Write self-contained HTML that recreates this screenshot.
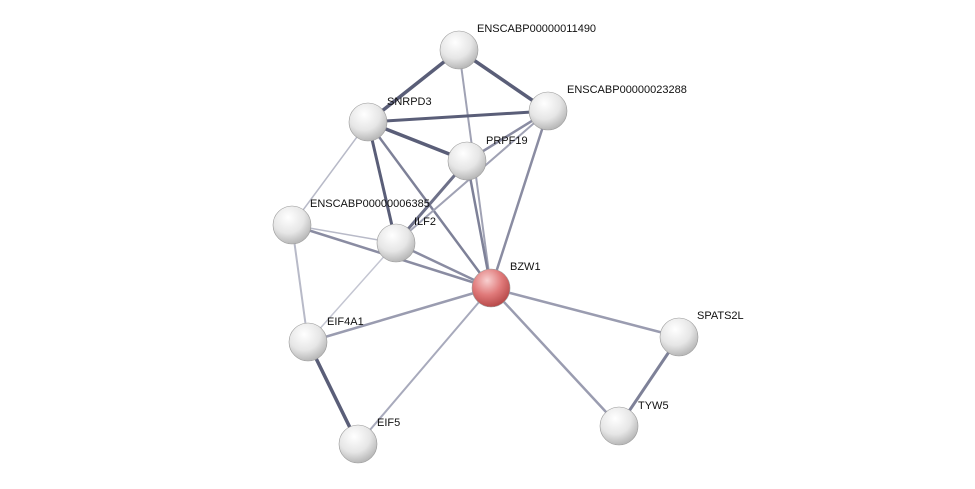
<!DOCTYPE html>
<html><head><meta charset="utf-8"><style>
html,body{margin:0;padding:0;background:#fff;width:975px;height:489px;overflow:hidden}
svg text{font-family:"Liberation Sans",sans-serif;font-size:11px;fill:#111}
</style></head><body>
<svg width="975" height="489" viewBox="0 0 975 489" xmlns="http://www.w3.org/2000/svg">
<defs>
<radialGradient id="g" cx="40%" cy="30%" r="70%">
<stop offset="0" stop-color="#ffffff"/><stop offset="0.6" stop-color="#e6e6e6"/><stop offset="1" stop-color="#b8b8b8"/>
</radialGradient>
<radialGradient id="r" cx="40%" cy="30%" r="70%">
<stop offset="0" stop-color="#f8d0d0"/><stop offset="0.55" stop-color="#e07a7a"/><stop offset="1" stop-color="#b84a4a"/>
</radialGradient>
</defs>
<g stroke-linecap="round">
<line x1="459" y1="50" x2="548" y2="111" stroke="#5a5e78" stroke-width="3.5"/>
<line x1="459" y1="50" x2="368" y2="122" stroke="#5a5e78" stroke-width="3.5"/>
<line x1="459" y1="50" x2="491" y2="288" stroke="#a0a2b4" stroke-width="2"/>
<line x1="368" y1="122" x2="548" y2="111" stroke="#5a5e78" stroke-width="3"/>
<line x1="368" y1="122" x2="467" y2="161" stroke="#5a5e78" stroke-width="3.5"/>
<line x1="368" y1="122" x2="491" y2="288" stroke="#7e8198" stroke-width="2.5"/>
<line x1="368" y1="122" x2="396" y2="243" stroke="#5a5e78" stroke-width="3"/>
<line x1="368" y1="122" x2="292" y2="225" stroke="#b8bac8" stroke-width="1.5"/>
<line x1="548" y1="111" x2="467" y2="161" stroke="#8a8ca2" stroke-width="2.5"/>
<line x1="548" y1="111" x2="491" y2="288" stroke="#8a8ca2" stroke-width="2.5"/>
<line x1="548" y1="111" x2="396" y2="243" stroke="#a0a2b4" stroke-width="2"/>
<line x1="467" y1="161" x2="491" y2="288" stroke="#7e8198" stroke-width="2.5"/>
<line x1="467" y1="161" x2="396" y2="243" stroke="#6e7189" stroke-width="3"/>
<line x1="292" y1="225" x2="396" y2="243" stroke="#b8bac8" stroke-width="1.5"/>
<line x1="292" y1="225" x2="491" y2="288" stroke="#8a8ca2" stroke-width="2.5"/>
<line x1="292" y1="225" x2="308" y2="342" stroke="#b8bac8" stroke-width="2"/>
<line x1="396" y1="243" x2="491" y2="288" stroke="#8a8ca2" stroke-width="2.5"/>
<line x1="396" y1="243" x2="308" y2="342" stroke="#c4c6d2" stroke-width="1.5"/>
<line x1="308" y1="342" x2="491" y2="288" stroke="#9a9cb0" stroke-width="2.5"/>
<line x1="308" y1="342" x2="358" y2="444" stroke="#5a5e78" stroke-width="3.5"/>
<line x1="358" y1="444" x2="491" y2="288" stroke="#a8aabc" stroke-width="2"/>
<line x1="491" y1="288" x2="679" y2="337" stroke="#9a9cb0" stroke-width="2.5"/>
<line x1="491" y1="288" x2="619" y2="426" stroke="#9a9cb0" stroke-width="2.5"/>
<line x1="679" y1="337" x2="619" y2="426" stroke="#7e8198" stroke-width="3"/>
</g>
<g stroke="#999" stroke-width="0.6">
<circle cx="459" cy="50" r="19" fill="url(#g)"/>
<circle cx="548" cy="111" r="19" fill="url(#g)"/>
<circle cx="368" cy="122" r="19" fill="url(#g)"/>
<circle cx="467" cy="161" r="19" fill="url(#g)"/>
<circle cx="292" cy="225" r="19" fill="url(#g)"/>
<circle cx="396" cy="243" r="19" fill="url(#g)"/>
<circle cx="491" cy="288" r="19" fill="url(#r)"/>
<circle cx="679" cy="337" r="19" fill="url(#g)"/>
<circle cx="308" cy="342" r="19" fill="url(#g)"/>
<circle cx="619" cy="426" r="19" fill="url(#g)"/>
<circle cx="358" cy="444" r="19" fill="url(#g)"/>
</g>
<text x="477" y="32">ENSCABP00000011490</text>
<text x="567" y="93">ENSCABP00000023288</text>
<text x="387" y="105">SNRPD3</text>
<text x="486" y="144">PRPF19</text>
<text x="310" y="207">ENSCABP00000006385</text>
<text x="414" y="225">ILF2</text>
<text x="510" y="270">BZW1</text>
<text x="697" y="319">SPATS2L</text>
<text x="327" y="325">EIF4A1</text>
<text x="638" y="409">TYW5</text>
<text x="377" y="426">EIF5</text>
</svg>
</body></html>
